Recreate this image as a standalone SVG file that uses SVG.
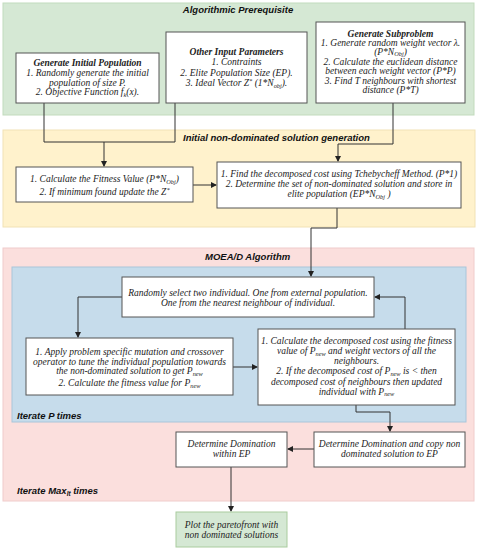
<svg xmlns="http://www.w3.org/2000/svg" width="477" height="550" viewBox="0 0 477 550">
<defs>
<marker id="ah" markerWidth="6" markerHeight="6" refX="5" refY="3" orient="auto" markerUnits="userSpaceOnUse">
<path d="M0,0 L6,3 L0,6 Z" fill="#222"/>
</marker>
<style>
.panel-g{fill:#d5e8d4;stroke:#c2dbbd;stroke-width:1}
.panel-y{fill:#fff2cc;stroke:#f1e2b5;stroke-width:1}
.panel-p{fill:#fbdfdd;stroke:#f0cccb;stroke-width:1}
.panel-b{fill:#c6dceb;stroke:#a9c6da;stroke-width:1}
.box{fill:#ffffff;stroke:#555;stroke-width:1}
.boxg{fill:#d5e8d4;stroke:#a9cc9e;stroke-width:1}
.ttl{font-family:"Liberation Sans",Arial,sans-serif;font-weight:bold;font-style:italic;font-size:9.5px;fill:#111}
.t{font-family:"Liberation Serif","Times New Roman",serif;font-style:italic;font-size:9.5px;fill:#222;text-anchor:middle}
.tb{font-weight:bold}
.sub{font-size:6.3px}
.conn{fill:none;stroke:#333;stroke-width:1}
</style>
</defs>

<g id="panel-prereq">
<rect class="panel-g" x="3" y="3" width="471" height="112"/>
<text class="ttl" x="238" y="13" text-anchor="middle">Algorithmic Prerequisite</text>
</g>
<g id="panel-init">
<rect class="panel-y" x="3" y="130" width="472" height="97"/>
<text class="ttl" x="183" y="141">Initial non-dominated solution generation</text>
</g>
<g id="panel-moead">
<rect class="panel-p" x="3" y="248" width="471" height="253"/>
<text class="ttl" x="205" y="260">MOEA/D Algorithm</text>
<text class="ttl" x="17" y="494">Iterate Max<tspan class="sub" dy="2">It</tspan><tspan dy="-2"> times</tspan></text>
</g>
<g id="panel-iterp">
<rect class="panel-b" x="12" y="267" width="454" height="155"/>
<text class="ttl" x="17" y="419">Iterate P times</text>
</g>

<g id="connectors">
<path class="conn" d="M44,103 V142 H175 V103"/>
<path class="conn" d="M104,142 V166" marker-end="url(#ah)"/>
<path class="conn" d="M393,103 V144 H338 V161" marker-end="url(#ah)"/>
<path class="conn" d="M193,185 H216" marker-end="url(#ah)"/>
<path class="conn" d="M337,208 V228 H311 V276" marker-end="url(#ah)"/>
<path class="conn" d="M122,297 H78 V337" marker-end="url(#ah)"/>
<path class="conn" d="M233,367 H257" marker-end="url(#ah)"/>
<path class="conn" d="M405,329 V297 H375" marker-end="url(#ah)"/>
<path class="conn" d="M356,405 V412 H390 V431" marker-end="url(#ah)"/>
<path class="conn" d="M314,449 H288" marker-end="url(#ah)"/>
<path class="conn" d="M231,467 V511" marker-end="url(#ah)"/>
</g>

<g id="node-init-pop">
<rect class="box" x="16" y="53" width="143" height="50"/>
<text class="t tb" x="87.5" y="66">Generate Initial Population</text>
<text class="t" x="87.5" y="76">1. Randomly generate the initial</text>
<text class="t" x="87.5" y="85.5">population of size P.</text>
<text class="t" x="87.5" y="95">2. Objective Function f<tspan class="sub" dy="1.5">k</tspan><tspan dy="-1.5">(x).</tspan></text>
</g>

<g id="node-other-input">
<rect class="box" x="166" y="32" width="141" height="71"/>
<text class="t tb" x="236.5" y="55">Other Input Parameters</text>
<text class="t" x="236.5" y="65">1. Contraints</text>
<text class="t" x="236.5" y="75.5">2. Elite Population Size (EP).</text>
<text class="t" x="236.5" y="86">3. Ideal Vector Z<tspan class="sub" dy="-3">*</tspan><tspan dy="3"> (1*N</tspan><tspan class="sub" dy="1.5">obj</tspan><tspan dy="-1.5">).</tspan></text>
</g>

<g id="node-subproblem">
<rect class="box" x="316" y="22" width="149" height="81"/>
<text class="t tb" x="390.5" y="36.5">Generate Subproblem</text>
<text class="t" x="390.5" y="45.5">1. Generate random weight vector λ.</text>
<text class="t" x="390.5" y="54.5">(P*N<tspan class="sub" dy="1.5">Obj</tspan><tspan dy="-1.5">)</tspan></text>
<text class="t" x="390.5" y="64.5">2. Calculate the euclidean distance</text>
<text class="t" x="390.5" y="74">between each weight vector (P*P)</text>
<text class="t" x="390.5" y="83.5">3. Find T neighbours with shortest</text>
<text class="t" x="390.5" y="93">distance (P*T)</text>
</g>

<g id="node-fitness">
<rect class="box" x="16" y="167" width="177" height="35"/>
<text class="t" x="104.5" y="182">1. Calculate the Fitness Value (P*N<tspan class="sub" dy="1.5">Obj</tspan><tspan dy="-1.5">)</tspan></text>
<text class="t" x="104.5" y="195">2. If minimum found update the Z<tspan class="sub" dy="-3">*</tspan></text>
</g>

<g id="node-tchebycheff">
<rect class="box" x="217" y="162" width="244" height="46"/>
<text class="t" x="339" y="177">1. Find the decomposed cost using Tchebycheff Method. (P*1)</text>
<text class="t" x="339" y="187">2. Determine the set of non-dominated solution and store in</text>
<text class="t" x="339" y="197">elite population (EP*N<tspan class="sub" dy="1.5">Obj</tspan><tspan dy="-1.5"> )</tspan></text>
</g>

<g id="node-random-select">
<rect class="box" x="122" y="277" width="252" height="40"/>
<text class="t" x="248" y="296">Randomly select two individual. One from external population.</text>
<text class="t" x="248" y="306">One from the nearest neighbour of individual.</text>
</g>

<g id="node-apply">
<rect class="box" x="26" y="338" width="207" height="57"/>
<text class="t" x="129.5" y="355">1. Apply problem specific mutation and crossover</text>
<text class="t" x="129.5" y="364.5">operator to tune the individual population towards</text>
<text class="t" x="129.5" y="374">the non-dominated solution to get P<tspan class="sub" dy="1.5">new</tspan></text>
<text class="t" x="129.5" y="386">2. Calculate the fitness value for P<tspan class="sub" dy="1.5">new</tspan></text>
</g>

<g id="node-calculate">
<rect class="box" x="258" y="329" width="197" height="76"/>
<text class="t" x="356.5" y="344">1. Calculate the decomposed cost using the fitness</text>
<text class="t" x="356.5" y="354">value of P<tspan class="sub" dy="1.5">new</tspan><tspan dy="-1.5"> and weight vectors of all the</tspan></text>
<text class="t" x="356.5" y="364">neighbours.</text>
<text class="t" x="356.5" y="374">2. If the decomposed cost of P<tspan class="sub" dy="1.5">new</tspan><tspan dy="-1.5"> is &lt; then</tspan></text>
<text class="t" x="356.5" y="384.5">decomposed cost of neighbours then updated</text>
<text class="t" x="356.5" y="394.5">individual with P<tspan class="sub" dy="1.5">new</tspan></text>
</g>

<g id="node-copy-ep">
<rect class="box" x="314" y="432" width="151" height="35"/>
<text class="t" x="389.5" y="447">Determine Domination and copy non</text>
<text class="t" x="389.5" y="457">dominated solution to EP</text>
</g>

<g id="node-within-ep">
<rect class="box" x="176" y="432" width="111" height="35"/>
<text class="t" x="231.5" y="447">Determine Domination</text>
<text class="t" x="231.5" y="457">within EP</text>
</g>

<g id="node-plot">
<rect class="boxg" x="176" y="512" width="111" height="35"/>
<text class="t" x="231.5" y="528">Plot the paretofront with</text>
<text class="t" x="231.5" y="538">non dominated solutions</text>
</g>
</svg>
